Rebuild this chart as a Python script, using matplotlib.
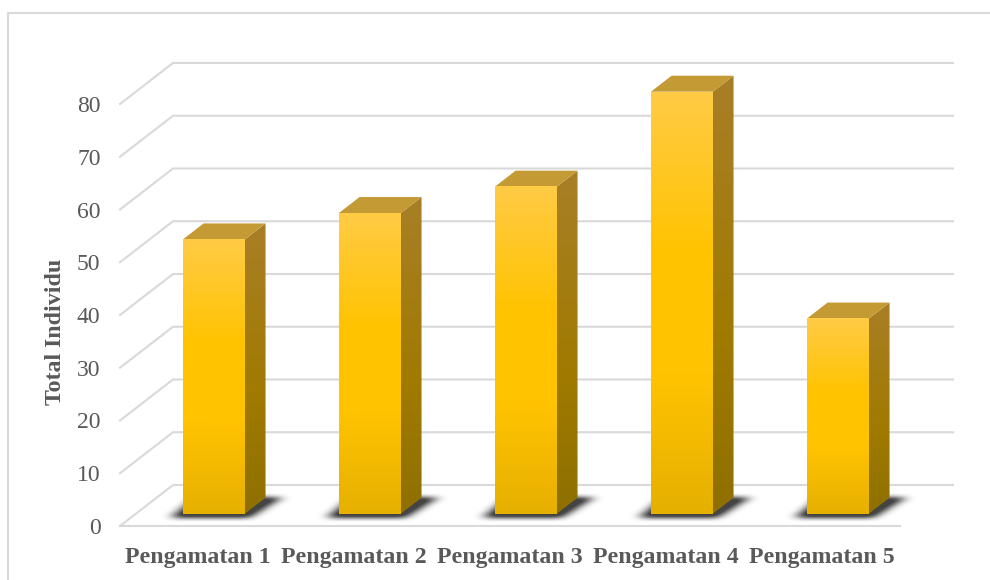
import matplotlib
matplotlib.use("Agg")
import matplotlib.pyplot as plt
import numpy as np
from matplotlib.colors import LinearSegmentedColormap
from matplotlib.patches import Polygon
from matplotlib.lines import Line2D
from matplotlib.path import Path

categories = ["Pengamatan 1", "Pengamatan 2", "Pengamatan 3", "Pengamatan 4", "Pengamatan 5"]
values = [52, 57, 62, 80, 37]
y_ticks = [0, 10, 20, 30, 40, 50, 60, 70, 80]
y_title = "Total Individu"

W, H = 990, 580
X0, X1, Y0, Y1 = 120, 953, 526, 63.5
PX_X, PX_Y = 156.0, 5.275
DX, DY = 53 / PX_X, 41 / PX_Y      # full depth of the 3D floor, in data units
D0, D1 = 0.30, 0.69                # bar depth range, as fractions of floor depth
BW = 0.397
GRID = "#D9D9D9"
TXT = "#595959"
FONT = "Liberation Serif"

fig = plt.figure(figsize=(W / 100, H / 100), dpi=100, facecolor="white")
ax = fig.add_axes([X0 / W, (H - Y0) / H, (X1 - X0) / W, (Y0 - Y1) / H])
ax.patch.set_alpha(0)
for s in ax.spines.values():
    s.set_visible(False)
XLIM = (-0.5, -0.5 + (X1 - X0) / PX_X)
YLIM = (0, (Y0 - Y1) / PX_Y)

def proj(x, y, d):
    return x + DX * d, y + DY * d

def soft_shadow(poly, x_range, y_range):
    """RGBA image of a blurred dark polygon, one cell per screen pixel."""
    nx = int((x_range[1] - x_range[0]) * PX_X)
    ny = int((y_range[1] - y_range[0]) * PX_Y)
    xs = np.linspace(x_range[0], x_range[1], nx)
    ys = np.linspace(y_range[1], y_range[0], ny)
    gx, gy = np.meshgrid(xs, ys)
    mask = Path(poly).contains_points(np.c_[gx.ravel(), gy.ravel()]).reshape(ny, nx).astype(float)
    kernel = np.ones(11) / 11
    for _ in range(3):
        mask = np.apply_along_axis(lambda r: np.convolve(r, kernel, mode="same"), 1, mask)
    k2 = np.ones(5) / 5
    for _ in range(2):
        mask = np.apply_along_axis(lambda c: np.convolve(c, k2, mode="same"), 0, mask)
    rgba = np.zeros((ny, nx, 4))
    rgba[..., :3] = 0.2
    rgba[..., 3] = np.clip(mask * 1.15, 0, 0.92)
    return rgba

for t in y_ticks:
    xa, ya = proj(-0.5, t, 0)
    xb, yb = proj(-0.5, t, 1)
    ax.plot([xa, xb, XLIM[1]], [ya, yb, yb], color=GRID, lw=1.5,
            solid_joinstyle="miter", clip_on=False, zorder=1)
ax.plot([-0.5, 4.5], [0, 0], color=GRID, lw=1.5, clip_on=False, zorder=1)

front_cm = LinearSegmentedColormap.from_list("f", [(0, "#E6B000"), (0.33, "#FFC300"), (0.62, "#FFC300"), (1, "#FFCB45")])
side_cm = LinearSegmentedColormap.from_list("s", [(0, "#8E7000"), (0.4, "#A07A00"), (1, "#A87F27")])
top_color = "#C49A35"

for i, v in enumerate(values):
    xl, xr = i - BW / 2, i + BW / 2
    fl, fb = proj(xl, 0, D0)
    fr, _ = proj(xr, 0, D0)
    ft = fb + v
    br, bb = proj(xr, 0, D1)
    bt = bb + v
    bl, _ = proj(xl, 0, D1)

    sh = [(fl - 12 / PX_X, fb - 4 / PX_Y), (fr + 4 / PX_X, fb - 4 / PX_Y),
          (br + 17 / PX_X, bb + 1 / PX_Y), (fl + 12 / PX_X, bb + 1 / PX_Y)]
    xr_s = (fl - 45 / PX_X, br + 50 / PX_X)
    yr_s = (fb - 14 / PX_Y, bb + 14 / PX_Y)
    ax.imshow(soft_shadow(sh, xr_s, yr_s), aspect="auto", zorder=2, clip_on=False,
              extent=[xr_s[0], xr_s[1], yr_s[0], yr_s[1]], interpolation="bilinear")

    grad = np.linspace(1, 0, 128).reshape(-1, 1)
    side = Polygon([[fr, fb], [br, bb], [br, bt], [fr, ft]], closed=True,
                   transform=ax.transData, fc="none", ec="none")
    ax.add_patch(side)
    im = ax.imshow(grad, cmap=side_cm, vmin=0, vmax=1, aspect="auto",
                   extent=[fr, br, fb, bt], zorder=3, interpolation="bilinear")
    im.set_clip_path(side)
    ax.add_patch(Polygon([[fl, ft], [fr, ft], [br, bt], [bl, bt]], closed=True,
                         fc=top_color, ec="none", zorder=3, clip_on=False))
    ax.imshow(grad, cmap=front_cm, vmin=0, vmax=1, aspect="auto",
              extent=[fl, fr, fb, ft], zorder=4, interpolation="bilinear", clip_on=False)

ax.set_xlim(*XLIM)
ax.set_ylim(*YLIM)

ax.set_yticks(y_ticks)
ax.set_yticklabels([str(t) for t in y_ticks], fontfamily=FONT, fontsize=17, color=TXT)
ax.tick_params(axis="y", length=0, pad=14)
ax.set_xticks(range(len(categories)))
ax.set_xticklabels(categories, fontfamily=FONT, fontsize=17.2, fontweight="bold", color=TXT)
ax.tick_params(axis="x", length=0, pad=15)
ax.set_ylabel(y_title, fontfamily=FONT, fontsize=17.2, fontweight="bold", color=TXT)
ax.yaxis.set_label_coords((66 - X0) / (X1 - X0), (Y0 - 332) / (Y0 - Y1))

fig.add_artist(Line2D([8 / W, 1], [1 - 12.5 / H] * 2, color=GRID, lw=1.5, transform=fig.transFigure))
fig.add_artist(Line2D([8 / W] * 2, [0, 1 - 12.5 / H], color=GRID, lw=1.5, transform=fig.transFigure))

fig.savefig("out.png", dpi=100)
